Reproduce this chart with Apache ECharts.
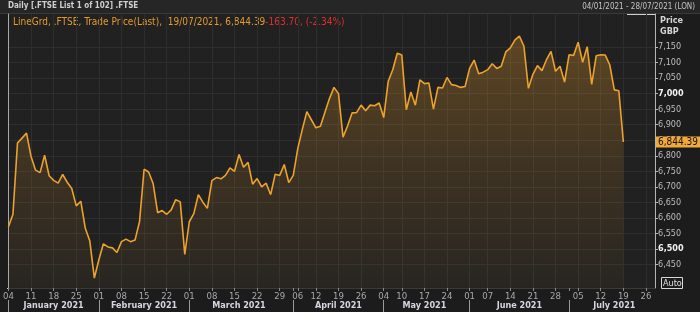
<!DOCTYPE html>
<html><head><meta charset="utf-8">
<script src="https://cdn.jsdelivr.net/npm/echarts@6/dist/echarts.min.js"></script>
<style>html,body{margin:0;padding:0;background:#1c1c1c}#c{width:700px;height:312px}</style>
</head><body><div id="c"></div>
<script>
// ---- data ----
const startDate = '2021-01-04';
const endDate = '2021-07-28';
const holidays = ['2021-04-02', '2021-04-05', '2021-05-03', '2021-05-31'];
const closes = [
  6572, 6612, 6841, 6857, 6873, 6798, 6754, 6746, 6802, 6736,
  6721, 6712, 6740, 6715, 6695, 6639, 6654, 6567, 6526, 6407,
  6466, 6517, 6507, 6504, 6489, 6524, 6532, 6524, 6529, 6589,
  6757, 6748, 6711, 6617, 6624, 6612, 6626, 6659, 6652, 6483,
  6588, 6614, 6675, 6651, 6631, 6720, 6730, 6726, 6737, 6761,
  6750, 6804, 6763, 6779, 6709, 6727, 6700, 6712, 6675, 6741,
  6737, 6772, 6714, 6737, 6824, 6885, 6942, 6916, 6890, 6895,
  6940, 6984, 7020, 7000, 6860, 6896, 6938, 6939, 6963, 6945,
  6963, 6961, 6970, 6923, 7040, 7077, 7130, 7124, 6948, 7005,
  6963, 7044, 7032, 7034, 6950, 7020, 7018, 7052, 7029, 7026,
  7020, 7023, 7081, 7108, 7064, 7069, 7077, 7096, 7081, 7088,
  7134, 7147, 7172, 7185, 7153, 7017, 7062, 7090, 7074, 7109,
  7136, 7072, 7088, 7037, 7125, 7123, 7165, 7101, 7151, 7030,
  7122, 7125, 7124, 7092, 7012, 7009, 6844.39
];
const yTickValues = [6450, 6500, 6550, 6600, 6650, 6700, 6750, 6800, 6850, 6900, 6950, 7000, 7050, 7100, 7150];
const boldTicks = [6500, 7000];
const lastPrice = 6844.39;
const monthNames = ['January', 'February', 'March', 'April', 'May', 'June', 'July', 'August', 'September', 'October', 'November', 'December'];
const yMin = 6375, yMax = 7256;

// ---- trading-day categories ----
const dates = [];
for (let d = new Date(startDate + 'T00:00:00Z'); d <= new Date(endDate + 'T00:00:00Z'); d.setUTCDate(d.getUTCDate() + 1)) {
  const dow = d.getUTCDay();
  const iso = d.toISOString().slice(0, 10);
  if (dow === 0 || dow === 6 || holidays.includes(iso)) continue;
  dates.push(iso);
}
const dOf = s => new Date(s + 'T00:00:00Z');
const isWeekStart = i => i === 0 || dOf(dates[i]).getUTCDay() <= dOf(dates[i - 1]).getUTCDay();
const isMonthStart = i => i === 0 || dates[i].slice(5, 7) !== dates[i - 1].slice(5, 7);
const monthCenters = {};
(function () {
  let s = 0;
  for (let i = 1; i <= dates.length; i++) {
    if (i === dates.length || isMonthStart(i)) { monthCenters[Math.round((s + i - 1) / 2 + 0.01)] = true; s = i; }
  }
})();

const FONT = "'Liberation Sans Narrow', 'DejaVu Sans Condensed', 'Liberation Sans', sans-serif";
const fmt = v => v.toLocaleString('en-US');

const chart = echarts.init(document.getElementById('c'), null, { renderer: 'canvas' });
chart.setOption({
  animation: false,
  backgroundColor: '#1c1c1c',
  textStyle: { fontFamily: FONT },
  grid: { left: 8, right: 45, top: 14, bottom: 24, show: true, backgroundColor: '#212121', borderWidth: 0 },
  xAxis: [{
    type: 'category', data: dates, boundaryGap: false, position: 'bottom',
    axisLine: { show: true, lineStyle: { color: '#3a3a3a', width: 1 } },
    axisTick: { show: true, length: 3, interval: (i) => isWeekStart(i) || isMonthStart(i), lineStyle: { color: '#8a8a8a' } },
    axisLabel: { interval: (i) => isWeekStart(i), formatter: v => v.slice(8, 10), color: '#a9a9a9', fontSize: 9.5, margin: 4, fontFamily: FONT },
    splitLine: { show: true, interval: (i) => isWeekStart(i), lineStyle: { color: '#2e2e2e', width: 1 } }
  }, {
    type: 'category', data: dates, boundaryGap: false, position: 'bottom', offset: 12,
    axisLine: { show: false },
    axisTick: { show: true, length: 12, interval: (i) => isMonthStart(i), lineStyle: { color: '#9a9a9a' } },
    axisLabel: { interval: (i) => !!monthCenters[i], formatter: v => monthNames[+v.slice(5, 7) - 1] + ' ' + v.slice(0, 4), color: '#d6d6e2', fontSize: 9, fontWeight: 'bold', margin: 1.5, fontFamily: FONT },
    splitLine: { show: false }
  }],
  yAxis: [{
    type: 'value', position: 'right', min: yMin, max: yMax, splitNumber: 18, minInterval: 50, maxInterval: 50,
    axisLine: { show: true, lineStyle: { color: '#b5b5b5', width: 1 } },
    axisTick: { show: true, length: 3, customValues: yTickValues, lineStyle: { color: '#b5b5b5' } },
    axisLabel: {
      margin: 3, fontSize: 9, color: '#bdbdbd', fontFamily: FONT,
      formatter: v => (yTickValues.includes(v) ? (boldTicks.includes(v) ? '{b|' + fmt(v) + '}' : fmt(v)) : ''),
      rich: { b: { fontWeight: 'bold', color: '#f2f2f2', fontSize: 9, fontFamily: FONT } }
    },
    splitLine: { show: true, lineStyle: { color: '#2e2e2e', width: 1 } }
  }, {
    type: 'value', position: 'left', min: yMin, max: yMax,
    axisLine: { show: true, lineStyle: { color: '#a8a8a8', width: 1 } },
    axisTick: { show: false }, axisLabel: { show: false }, splitLine: { show: false }
  }],
  series: [{
    type: 'line', data: closes, xAxisIndex: 0, yAxisIndex: 0,
    symbol: 'none', smooth: false,
    lineStyle: { color: '#eca22c', width: 1.6 },
    areaStyle: {
      origin: 'start',
      color: new echarts.graphic.LinearGradient(0, 0, 0, 1, [
        { offset: 0, color: 'rgba(226,150,40,0.45)' },
        { offset: 0.5, color: 'rgba(226,150,40,0.22)' },
        { offset: 1, color: 'rgba(226,150,40,0.05)' }
      ])
    },
    markLine: {
      silent: true, symbol: ['none', 'none'],
      lineStyle: { color: 'rgba(0,0,0,0)', width: 1 },
      label: { show: true, position: 'end', distance: 1, formatter: () => fmt(lastPrice), color: '#111', opacity: 1, backgroundColor: '#f2a93b', padding: [1, 2, 0, 2], fontSize: 10, fontFamily: FONT },
      data: [{ yAxis: lastPrice }]
    }
  }],
  graphic: [
    { type: 'rect', shape: { x: 0, y: 0, width: 700, height: 13 }, style: { fill: '#262626' }, z: -1 },
    { type: 'line', shape: { x1: 0, y1: 13.5, x2: 700, y2: 13.5 }, style: { stroke: '#3a3a3a', lineWidth: 1 } },
    { type: 'text', left: 8, top: 2, style: { text: 'Daily [.FTSE List 1 of 102] .FTSE', fill: '#cfcfcf', font: 'bold 8px ' + FONT } },
    { type: 'text', right: 5, top: 3, style: { text: '04/01/2021 - 28/07/2021 (LON)', fill: '#c4c4c4', font: '8px ' + FONT } },
    { type: 'text', left: 13, top: 17, style: {
        text: '{o|LineGrd, .FTSE, Trade Price(Last),  19/07/2021, 6,844.39}{r|-163.70, (-2.34%)}',
        rich: { o: { fill: '#e59a2c', font: '10px ' + FONT }, r: { fill: '#e0302c', font: '10px ' + FONT } }
      } },
    { type: 'text', left: 660, top: 16, style: { text: 'Price', fill: '#d4d4d4', font: 'bold 9px ' + FONT } },
    { type: 'text', left: 660, top: 27, style: { text: 'GBP', fill: '#d4d4d4', font: 'bold 9px ' + FONT } },
    { type: 'rect', shape: { x: 661.5, y: 277.5, width: 21, height: 11 }, style: { fill: '#1c1c1c', stroke: '#d8d8d8', lineWidth: 1 } },
    { type: 'text', left: 663, top: 279, style: { text: 'Auto', fill: '#e0e0e0', font: '9px ' + FONT } },
    { type: 'line', shape: { x1: 627, y1: 14.5, x2: 655, y2: 14.5 }, style: { stroke: '#d0d0d0', lineWidth: 1 } },
    { type: 'line', shape: { x1: 7, y1: 288.5, x2: 23, y2: 288.5 }, style: { stroke: '#d0d0d0', lineWidth: 1 } },
    { type: 'line', shape: { x1: 640, y1: 288.5, x2: 655, y2: 288.5 }, style: { stroke: '#d0d0d0', lineWidth: 1 } }
  ]
});
</script>
</body></html>
